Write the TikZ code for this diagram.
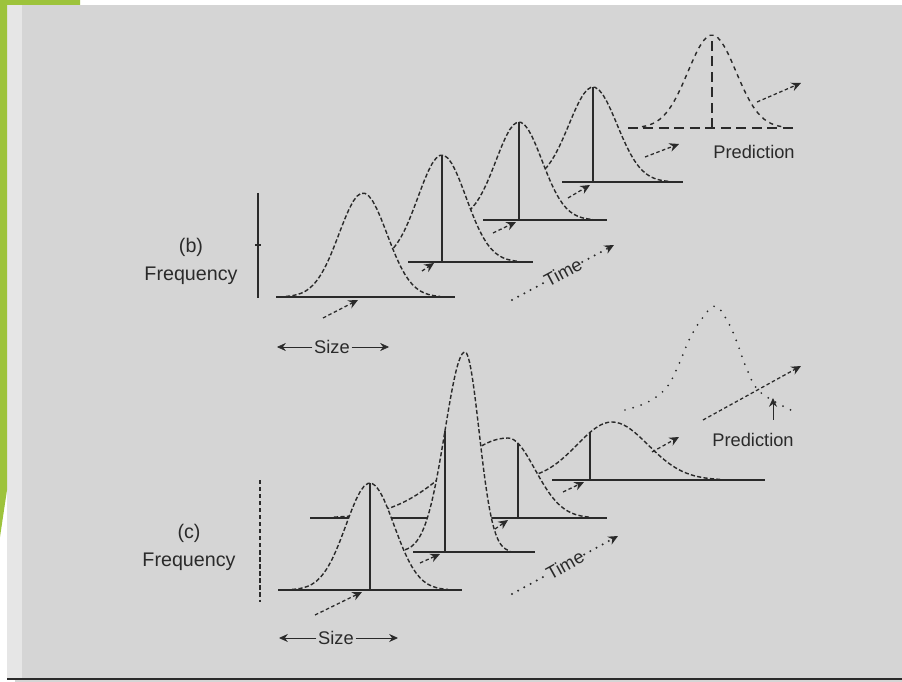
\documentclass[tikz,border=0pt]{standalone}
\usepackage{fontspec}
\setmainfont{Liberation Sans}
\usetikzlibrary{arrows.meta, calc}
\definecolor{slideGreen}{HTML}{9DC33B}
\definecolor{paperGrey}{HTML}{D5D5D5}
\definecolor{paperEdge}{HTML}{E6E6E6}
\definecolor{inkGrey}{HTML}{2A2A2A}
\tikzset{
  % scanned figure: heavy base lines, bell curves broken into dashes
  every picture/.append style = {line width=0.7pt, >={Stealth[length=2.2mm]}},
  groundline/.style = {inkGrey, line width=1.5pt},
  meanline/.style   = {inkGrey, line width=1.4pt},
  bellcurve/.style  = {inkGrey, line width=1pt, dash pattern=on 3pt off 1.6pt},
  predcurve/.style  = {inkGrey, line width=1pt, dash pattern=on 3pt off 3pt},
  predline/.style   = {inkGrey, line width=1.4pt, dash pattern=on 7pt off 4pt},
  dotcurve/.style   = {inkGrey, line width=1.4pt, line cap=round, dash pattern=on 0pt off 6pt},
  shiftarrow/.style = {-{Stealth[length=2.4mm, width=2.2mm]}, inkGrey, line width=0.9pt,
                       dash pattern=on 2.5pt off 1.8pt},
  timedots/.style   = {inkGrey, line width=1.6pt, line cap=round, dash pattern=on 0pt off 5pt},
  timearrow/.style  = {timedots, -{Stealth[length=2.4mm, width=2.2mm]}},
  sizearrow/.style  = {-{Stealth[length=2.2mm, width=2mm]}, inkGrey, line width=0.6pt},
  lbl/.style        = {font=\fontsize{13}{15}\selectfont, inkGrey, inner sep=1pt},
  axislbl/.style    = {font=\fontsize{14}{20}\selectfont, inkGrey, align=center},
}

\begin{document}
\begin{tikzpicture}[x=0.025cm, y=-0.025cm]
  \useasboundingbox (0,0) rectangle (902,682);
  % slide edge and scanned page
  \fill[white] (0,0) rectangle (902,682);
  \fill[paperGrey] (15,5) rectangle (902,682);
  \fill[paperEdge] (7,5) rectangle (22,680);
  \draw[inkGrey, line width=1.2pt] (7,679) -- (902,679);
  \fill[slideGreen] (0,0) -- (80,0) -- (80,5) -- (7,5) -- (7,490) -- (0,537) -- cycle;

  % ---------------- (b) ----------------
  \draw[groundline] (258,193) -- (258,298);
  \draw[inkGrey, line width=0.8pt] (255,245) -- (261,245);
  \node[axislbl] (freqB) at (191,261) {(b)\\Frequency};

  % prediction curve
  \draw[predline] (628,128) -- (797,128);
  \draw[predcurve] plot[domain=642:782, samples=40] (\x,{128-93*exp(-(((\x-712)/24)^2)/2)});
  \draw[predline] (712,128) -- (712,35);
  \node[lbl] (predB) at (754,152) {Prediction};

  % observed curves, back to front
  \foreach \m/\b/\h/\s/\l/\r in {593/182/95/24/562/683, 519/220/98/23/483/607, 442/262/107/24/408/533} {
    \fill[paperGrey] plot[domain=\m-3.2*\s:\m+3.2*\s, samples=40]
      (\x,{\b-\h*exp(-(((\x-\m)/\s)^2)/2)}) -- cycle;
    \draw[groundline] (\l,\b) -- (\r,\b);
    \draw[bellcurve] plot[domain=\m-3.2*\s:\m+3.2*\s, samples=40]
      (\x,{\b-\h*exp(-(((\x-\m)/\s)^2)/2)});
    \draw[meanline] (\m,\b) -- (\m,\b-\h);
  }
  \fill[paperGrey] plot[domain=286:440, samples=40] (\x,{297-104*exp(-(((\x-363)/24)^2)/2)}) -- cycle;
  \draw[groundline] (276,297) -- (455,297);
  \draw[bellcurve] plot[domain=286:440, samples=40] (\x,{297-104*exp(-(((\x-363)/24)^2)/2)});

  % shifts of the mean
  \draw[shiftarrow] (323,318) -- (358,300);
  \draw[shiftarrow] (422,271) -- (434,263);
  \draw[shiftarrow] (493,233) -- (516,222);
  \draw[shiftarrow] (568,198) -- (590,185);
  \draw[shiftarrow] (645,157) -- (679,144);
  \draw[shiftarrow] (757,102) -- (801,83);

  % size and time
  \node[lbl] (sizeB) at (332,347) {Size};
  \coordinate (sizeBl) at (277,347);
  \coordinate (sizeBr) at (389,347);
  \draw[sizearrow, line width=0.4pt] (sizeB) -- (sizeBl);
  \draw[sizearrow, line width=0.4pt] (sizeB) -- (sizeBr);
  \coordinate (timeBs) at (512,300);
  \coordinate (timeBe) at (614,245);
  \node[lbl, rotate=28] (timeB) at ($(timeBs)!0.5!(timeBe)$) {Time};
  \draw[timedots] (timeBs) -- (timeB);
  \draw[timearrow] (timeB) -- (timeBe);

  % ---------------- (c) ----------------
  \draw[inkGrey, line width=0.8pt, dash pattern=on 3pt off 2pt] (260,480) -- (260,602);
  \node[axislbl] (freqC) at (189,547) {(c)\\Frequency};

  % prediction, spread out
  \draw[dotcurve] plot[smooth, tension=0.6] coordinates {(625,410) (648,402) (667,387) (679,364)
    (689,340) (701,320) (715,306) (728,322) (738,345) (746,367) (760,392) (797,413)};

  % broad curve, right tail long
  \fill[paperGrey] plot[domain=507:612, samples=30] (\x,{480-58*exp(-(((\x-612)/35)^2)/2)})
    -- plot[domain=612:720, samples=30] (\x,{480-58*exp(-(((\x-612)/36)^2)/2)}) -- cycle;
  \draw[groundline] (552,480) -- (765,480);
  \draw[bellcurve] plot[domain=507:612, samples=30] (\x,{480-58*exp(-(((\x-612)/35)^2)/2)})
    -- plot[domain=612:720, samples=30] (\x,{480-58*exp(-(((\x-612)/36)^2)/2)});
  \draw[meanline] (590,480) -- (590,{480-58*exp(-(((590-612)/35)^2)/2)});

  % skewed curve
  \fill[paperGrey] plot[domain=334:508, samples=40] (\x,{518-80*exp(-(((\x-508)/58)^2)/2)})
    -- plot[domain=508:589, samples=30] (\x,{518-80*exp(-(((\x-508)/27)^2)/2)}) -- cycle;
  \draw[groundline] (310,518) -- (607,518);
  \draw[bellcurve] plot[domain=334:508, samples=40] (\x,{518-80*exp(-(((\x-508)/58)^2)/2)})
    -- plot[domain=508:589, samples=30] (\x,{518-80*exp(-(((\x-508)/27)^2)/2)});
  \draw[meanline] (518,518) -- (518,{518-80*exp(-(((518-508)/27)^2)/2)});

  % narrow tall curve
  \fill[paperGrey] plot[domain=405:465, samples=40] (\x,{552-200*exp(-(((\x-465)/20)^2)/2)})
    -- plot[domain=465:510, samples=30] (\x,{552-200*exp(-(((\x-465)/14)^2)/2)}) -- cycle;
  \draw[groundline] (413,552) -- (535,552);
  \draw[bellcurve] plot[domain=405:465, samples=40] (\x,{552-200*exp(-(((\x-465)/20)^2)/2)})
    -- plot[domain=465:510, samples=30] (\x,{552-200*exp(-(((\x-465)/14)^2)/2)});
  \draw[meanline] (445,552) -- (445,{552-200*exp(-(((445-465)/20)^2)/2)});

  % first curve
  \fill[paperGrey] plot[domain=292:448, samples=40] (\x,{590-107*exp(-(((\x-370)/24)^2)/2)}) -- cycle;
  \draw[groundline] (278,590) -- (462,590);
  \draw[bellcurve] plot[domain=292:448, samples=40] (\x,{590-107*exp(-(((\x-370)/24)^2)/2)});
  \draw[meanline] (370,590) -- (370,483);

  % shifts of the mean
  \draw[shiftarrow] (315,615) -- (362,592);
  \draw[shiftarrow] (420,563) -- (440,554);
  \draw[shiftarrow] (495,529) -- (508,520);
  \draw[shiftarrow] (563,492) -- (584,482);
  \draw[shiftarrow] (652,452) -- (679,437);
  \draw[shiftarrow] (703,420) -- (801,366);

  \node[lbl] (predC) at (753,440) {Prediction};
  \coordinate (predCfoot) at (773,420);
  \coordinate (predCtip) at (773,398);
  \draw[sizearrow] (predCfoot) -- (predCtip);

  % size and time
  \node[lbl] (sizeC) at (336,638) {Size};
  \coordinate (sizeCl) at (279,638);
  \coordinate (sizeCr) at (398,638);
  \draw[sizearrow] (sizeC) -- (sizeCl);
  \draw[sizearrow] (sizeC) -- (sizeCr);
  \coordinate (timeCs) at (512,594);
  \coordinate (timeCe) at (618,536);
  \node[lbl, rotate=29] (timeC) at ($(timeCs)!0.5!(timeCe)$) {Time};
  \draw[timedots] (timeCs) -- (timeC);
  \draw[timearrow] (timeC) -- (timeCe);
\end{tikzpicture}
\end{document}
